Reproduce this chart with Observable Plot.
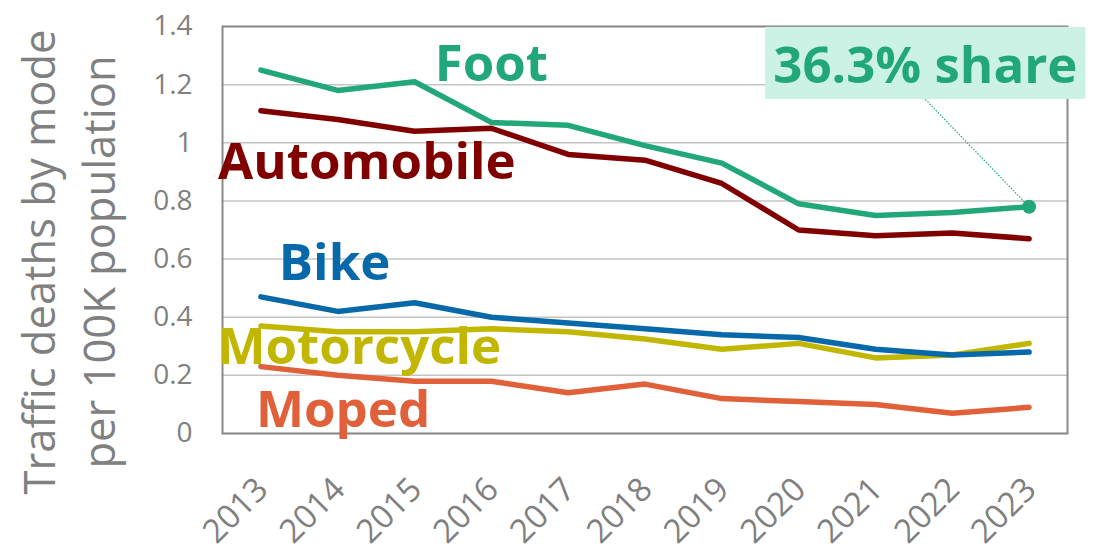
<!DOCTYPE html>
<html><head><meta charset="utf-8">
<script src="https://cdn.jsdelivr.net/npm/d3@7"></script>
<script src="https://cdn.jsdelivr.net/npm/@observablehq/plot@0.6"></script>
<style>body{margin:0;background:#fff;font-family:"Open Sans",sans-serif}</style>
</head><body><div id="chart"></div>
<script>
const years = [2013, 2014, 2015, 2016, 2017, 2018, 2019, 2020, 2021, 2022, 2023];
const foot       = [1.25, 1.18, 1.21, 1.07, 1.06, 0.99, 0.93, 0.79, 0.75, 0.76, 0.78];
const automobile = [1.11, 1.08, 1.04, 1.05, 0.96, 0.94, 0.86, 0.70, 0.68, 0.69, 0.67];
const bike       = [0.47, 0.42, 0.45, 0.40, 0.38, 0.36, 0.34, 0.33, 0.29, 0.27, 0.28];
const motorcycle = [0.37, 0.35, 0.35, 0.36, 0.35, 0.325, 0.29, 0.31, 0.26, 0.27, 0.31];
const moped      = [0.23, 0.20, 0.18, 0.18, 0.14, 0.17, 0.12, 0.11, 0.10, 0.07, 0.09];
const modes = ["Foot", "Automobile", "Bike", "Motorcycle", "Moped"];
const yTicks = [0, 0.2, 0.4, 0.6, 0.8, 1.0, 1.2, 1.4];
const yTitle = "Traffic deaths by mode\nper 100K population";
const shareLabel = "36.3% share";

// styling / annotation placement (not data)
const colors = ["#22a878", "#800000", "#0769a9", "#c2b700", "#e0603a"];
const labelPos = [
  {mode: "Foot", x: 2016.0, y: 1.27},
  {mode: "Automobile", x: 2014.38, y: 0.93},
  {mode: "Bike", x: 2013.96, y: 0.585},
  {mode: "Motorcycle", x: 2014.28, y: 0.296},
  {mode: "Moped", x: 2014.07, y: 0.08}
];
const box = {x1: 2019.57, x2: 2023.74, y1: 1.149, y2: 1.397, tx: 2021.65, ty: 1.262};

const series = {Foot: foot, Automobile: automobile, Bike: bike, Motorcycle: motorcycle, Moped: moped};
const drawOrder = ["Moped", "Motorcycle", "Bike", "Automobile", "Foot"];
const rows = drawOrder.flatMap(m => years.map((yr, i) => ({mode: m, year: yr, value: series[m][i]})));
const last = {year: years[years.length - 1], value: foot[foot.length - 1]};
const gray = "#808080";

const chart = Plot.plot({
  width: 1101, height: 555,
  marginLeft: 222, marginRight: 34, marginTop: 26, marginBottom: 122,
  style: {fontFamily: '"Open Sans", sans-serif', background: "#fff"},
  x: {type: "linear", domain: [years[0] - 0.5, years[years.length - 1] + 0.5], axis: null},
  y: {domain: [0, 1.4], axis: null},
  color: {domain: modes, range: colors},
  marks: [
    Plot.gridY(yTicks, {stroke: "#c4c4c4", strokeOpacity: 1, strokeWidth: 1.5}),
    Plot.frame({stroke: "#8a8a8a", strokeWidth: 2}),
    Plot.axisY(yTicks, {tickSize: 0, tickPadding: 30, fontSize: 28, fill: gray,
      tickFormat: d => String(+d.toFixed(1))}),
    Plot.text(years, {x: d => d, frameAnchor: "bottom", rotate: -45, textAnchor: "end",
      dx: 9, dy: 58, fontSize: 33, fill: gray, text: d => String(d)}),
    Plot.text([yTitle], {frameAnchor: "left", textAnchor: "middle", rotate: -90, dx: -157, dy: 32,
      fontSize: 43.5, lineHeight: 1.39, fill: gray}),
    Plot.lineY(rows, {x: "year", y: "value", z: "mode", stroke: "mode", strokeWidth: 5.5,
      strokeLinecap: "round", strokeLinejoin: "round"}),
    Plot.rect([box], {x1: "x1", x2: "x2", y1: "y1", y2: "y2", fill: "#ccf2e6"}),
    Plot.link([box], {x1: "tx", y1: "y1", x2: () => last.year, y2: () => last.value,
      stroke: colors[0], strokeWidth: 1.2, strokeDasharray: "1.5,1.5"}),
    Plot.dot([last], {x: "year", y: "value", r: 7, fill: colors[0]}),
    Plot.text([box], {x: "tx", y: "ty", text: () => shareLabel, fontSize: 51, fontWeight: "bold",
      fill: colors[0]}),
    Plot.text(labelPos, {x: "x", y: "y", text: "mode", fill: "mode", fontSize: 51, fontWeight: "bold"})
  ]
});
document.getElementById("chart").appendChild(chart);
</script>
</body></html>
